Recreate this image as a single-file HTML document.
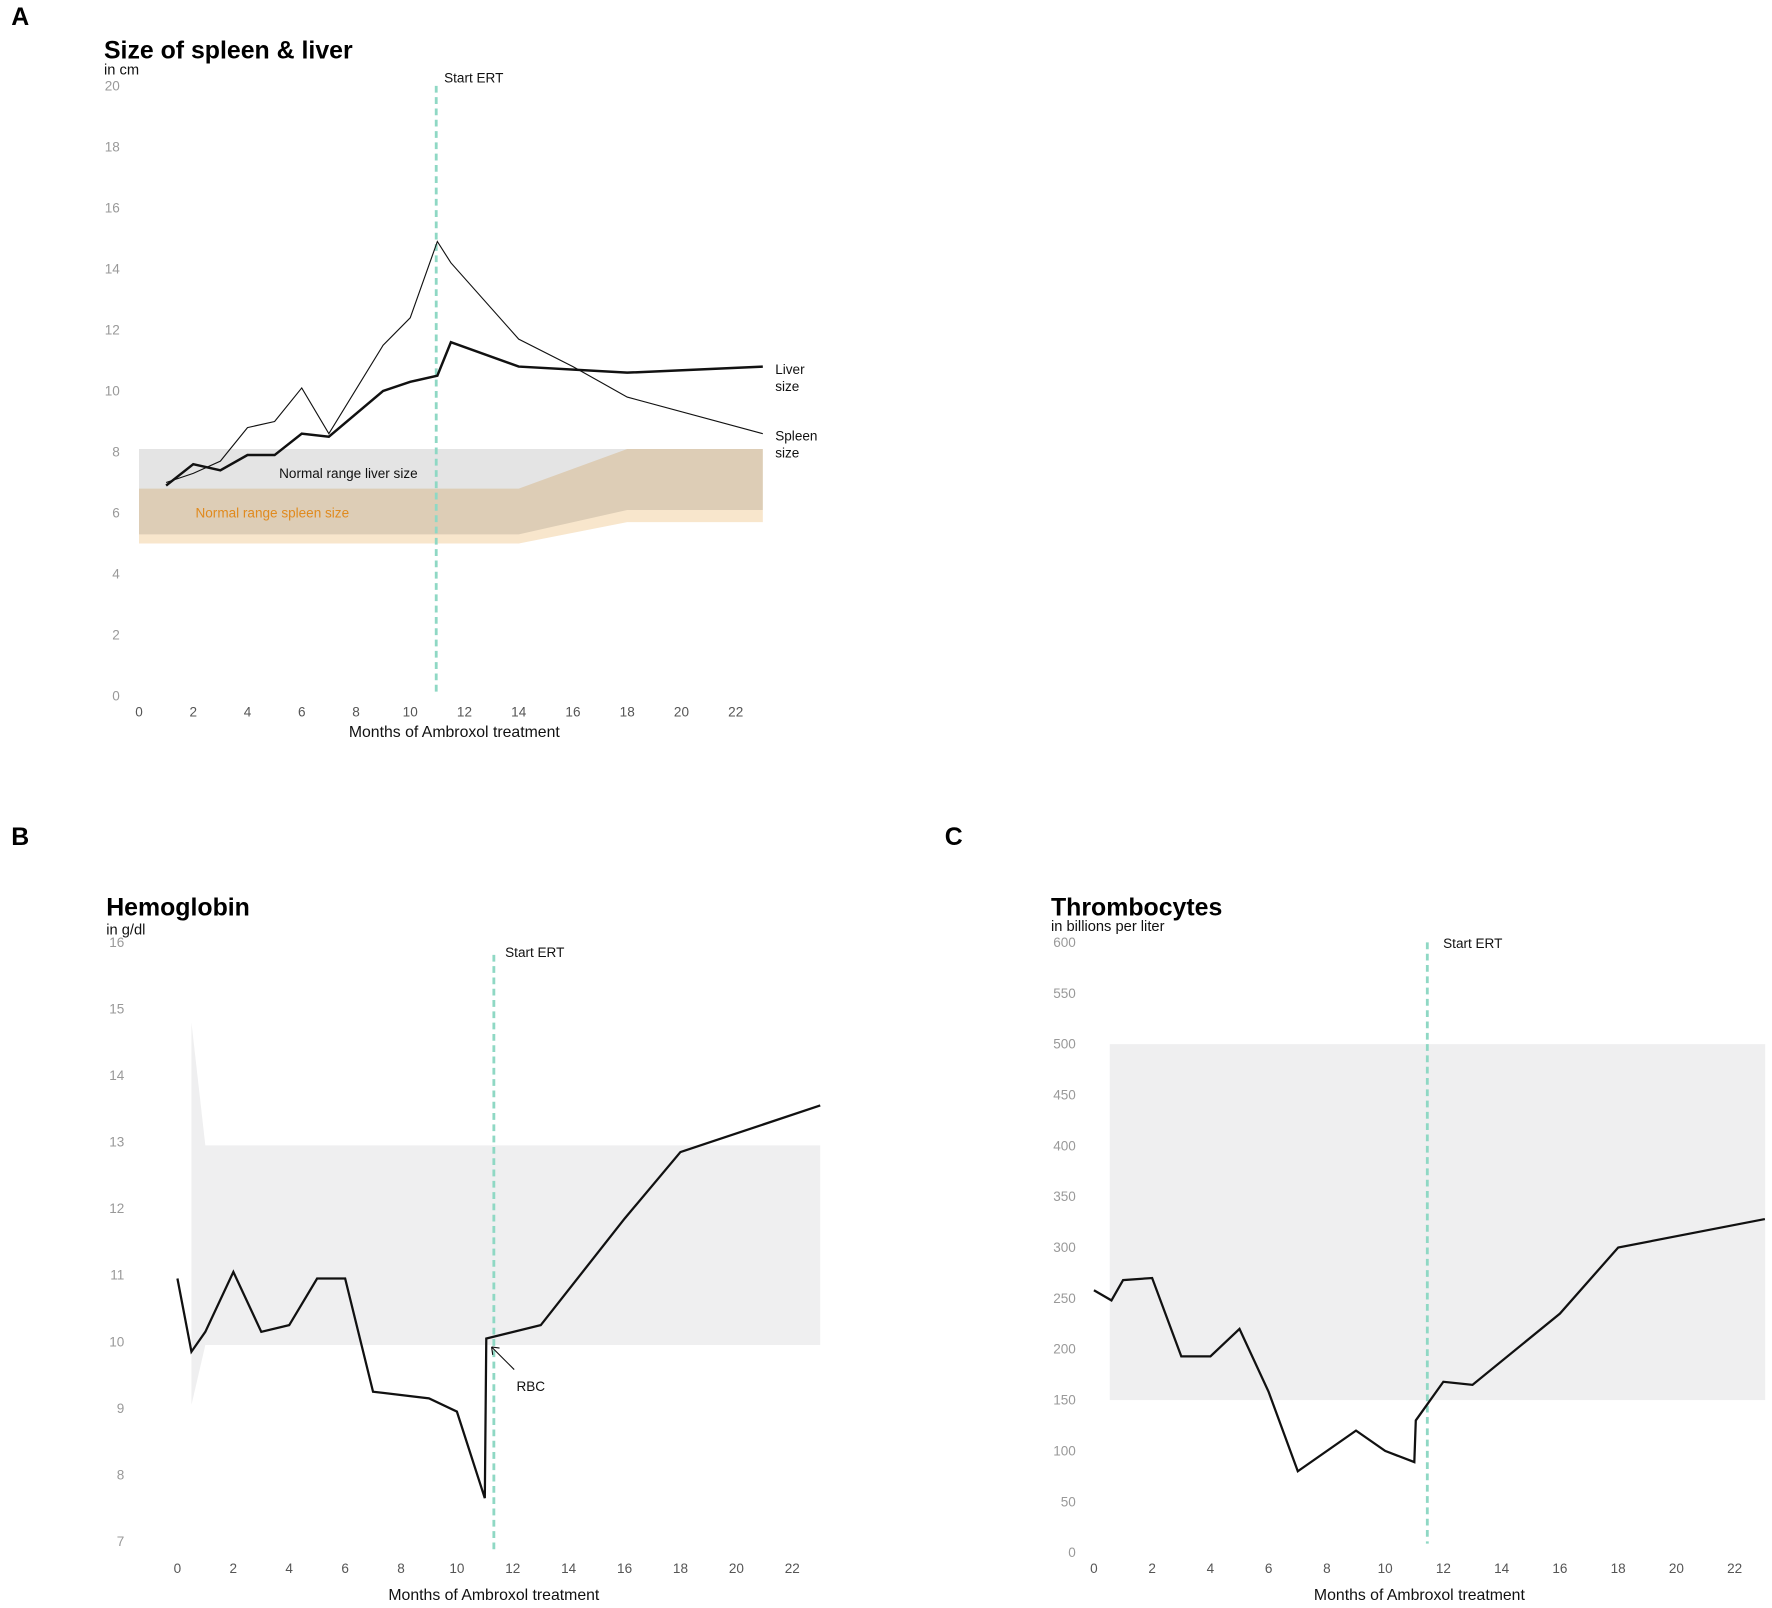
<!DOCTYPE html>
<html><head><meta charset="utf-8"><style>
html,body{margin:0;padding:0;background:#fff;}
svg{display:block;}
text{font-family:"Liberation Sans",sans-serif;}
.tk{fill:#999;font-size:12px;}
.tx{fill:#555;font-size:12px;text-anchor:middle;}
.ttl{font-size:22px;font-weight:bold;fill:#000;}
.sub{font-size:13px;fill:#111;}
.ax{font-size:14px;fill:#111;text-anchor:middle;}
.lab{font-size:12px;fill:#111;}
</style></head><body>
<svg id="s" width="1772" height="1608" viewBox="0 0 1568 1423" preserveAspectRatio="none" xmlns="http://www.w3.org/2000/svg">
<text x="10" y="22" style="font-size:22px;font-weight:bold">A</text>
<text x="10" y="748" style="font-size:22px;font-weight:bold">B</text>
<text x="836" y="748" style="font-size:22px;font-weight:bold">C</text>
<g id="A"></g><g id="B"></g><g id="C"></g>
</svg>
<script>
function P(fx,fy,pts){return pts.map((p,i)=>(i?'L':'M')+fx(p[0]).toFixed(1)+','+fy(p[1]).toFixed(1)).join(' ');}
var h='';
// Panel A
var ax=m=>123+m*24, ay=v=>616-v*27;
h+='<text class="ttl" x="92" y="52">Size of spleen &amp; liver</text><text class="sub" x="92" y="66">in cm</text>';
for(var v=0;v<=20;v+=2)h+='<text class="tk" x="106" y="'+(ay(v)+4)+'" text-anchor="end">'+v+'</text>';
for(var m=0;m<=22;m+=2)h+='<text class="tx" x="'+ax(m)+'" y="634">'+m+'</text>';
h+='<text class="ax" x="402" y="652">Months of Ambroxol treatment</text>';
h+='<path d="'+P(ax,ay,[[0,5],[14,5],[18,5.7],[23,5.7],[23,8.1],[18,8.1],[14,6.8],[0,6.8]])+'Z" fill="#f8e6cc"/>';
h+='<path d="'+P(ax,ay,[[0,5.3],[14,5.3],[18,6.1],[23,6.1],[23,8.1],[0,8.1]])+'Z" fill="#e4e4e4" style="mix-blend-mode:multiply"/>';
h+='<text class="lab" x="247" y="423">Normal range liver size</text>';
h+='<text x="173" y="458" style="font-size:12px;fill:#e08a1e">Normal range spleen size</text>';
h+='<line x1="386" y1="76" x2="386" y2="612" stroke="#8fd8c4" stroke-width="2.5" stroke-dasharray="6,4"/>';
h+='<text class="lab" x="393" y="73">Start ERT</text>';
h+='<path d="'+P(ax,ay,[[1,7.0],[2,7.3],[3,7.7],[4,8.8],[5,9.0],[6,10.1],[7,8.6],[9,11.5],[10,12.4],[11,14.9],[11.5,14.2],[14,11.7],[16,10.8],[18,9.8],[23,8.6]])+'" fill="none" stroke="#111" stroke-width="1"/>';
h+='<path d="'+P(ax,ay,[[1,6.9],[2,7.6],[3,7.4],[4,7.9],[5,7.9],[6,8.6],[7,8.5],[9,10],[10,10.3],[11,10.5],[11.5,11.6],[14,10.8],[18,10.6],[23,10.8]])+'" fill="none" stroke="#111" stroke-width="2.2"/>';
h+='<text class="lab" x="686" y="331">Liver</text><text class="lab" x="686" y="346">size</text>';
h+='<text class="lab" x="686" y="390">Spleen</text><text class="lab" x="686" y="405">size</text>';
document.getElementById('A').innerHTML=h;h='';
// Panel B
var bx=m=>157+m*24.73, by=v=>834+(16-v)*58.9;
h+='<text class="ttl" x="94" y="810">Hemoglobin</text><text class="sub" x="94" y="827">in g/dl</text>';
for(var v=7;v<=16;v++)h+='<text class="tk" x="110" y="'+(by(v)+4)+'" text-anchor="end">'+v+'</text>';
for(var m=0;m<=22;m+=2)h+='<text class="tx" x="'+bx(m)+'" y="1392">'+m+'</text>';
h+='<text class="ax" x="437" y="1416">Months of Ambroxol treatment</text>';
h+='<path d="'+P(bx,by,[[0.5,14.8],[1,12.95],[23,12.95],[23,9.95],[1,9.95],[0.5,9.05]])+'Z" fill="#efeff0"/>';
h+='<line x1="437" y1="845" x2="437" y2="1374" stroke="#8fd8c4" stroke-width="2.5" stroke-dasharray="6,4"/>';
h+='<text class="lab" x="447" y="847">Start ERT</text>';
h+='<path d="'+P(bx,by,[[0,10.95],[0.5,9.85],[1,10.15],[2,11.05],[3,10.15],[4,10.25],[5,10.95],[6,10.95],[7,9.25],[9,9.15],[10,8.95],[11,7.65],[11.05,10.05],[13,10.25],[16,11.85],[18,12.85],[23,13.55]])+'" fill="none" stroke="#111" stroke-width="2"/>';
h+='<line x1="455" y1="1212" x2="435" y2="1192" stroke="#111" stroke-width="1"/><path d="M435,1192 l1,7 M435,1192 l7,1" stroke="#111" fill="none"/>';
h+='<text class="lab" x="457" y="1231">RBC</text>';
document.getElementById('B').innerHTML=h;h='';
// Panel C
var cx=m=>968+m*25.77, cy=v=>1374-v*0.9;
h+='<text class="ttl" x="930" y="810">Thrombocytes</text><text class="sub" x="930" y="824">in billions per liter</text>';
for(var v=0;v<=600;v+=50)h+='<text class="tk" x="952" y="'+(cy(v)+4)+'" text-anchor="end">'+v+'</text>';
for(var m=0;m<=22;m+=2)h+='<text class="tx" x="'+cx(m)+'" y="1392">'+m+'</text>';
h+='<text class="ax" x="1256" y="1416">Months of Ambroxol treatment</text>';
h+='<rect x="982" y="'+cy(500)+'" width="580" height="'+(350*0.9)+'" fill="#efeff0"/>';
h+='<line x1="1263" y1="834" x2="1263" y2="1366" stroke="#8fd8c4" stroke-width="2.5" stroke-dasharray="6,4"/>';
h+='<text class="lab" x="1277" y="839">Start ERT</text>';
h+='<path d="'+P(cx,cy,[[0,258],[0.6,248],[1,268],[2,270],[3,193],[4,193],[5,220],[6,158],[7,80],[9,120],[10,100],[11,89],[11.05,130],[12,168],[13,165],[16,235],[18,300],[23.04,328]])+'" fill="none" stroke="#111" stroke-width="2"/>';
document.getElementById('C').innerHTML=h;
</script>
</body></html>
